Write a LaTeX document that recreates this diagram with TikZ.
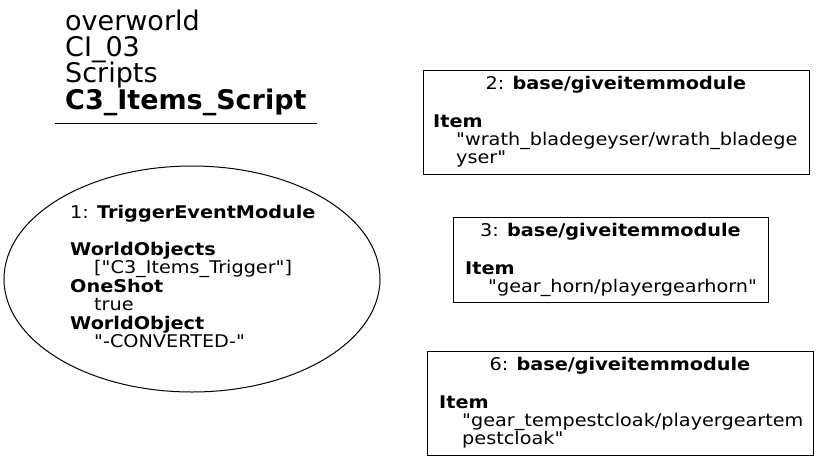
\documentclass[tikz,border=0pt]{standalone}
\usepackage{fontspec}
\setmainfont{DejaVu Sans}
\newfontfamily\bodyfont[FakeStretch=1.1]{DejaVu Sans}
\usetikzlibrary{shapes.geometric}
\tikzset{
  boxnode/.style={draw, line width=1pt, rectangle, anchor=north west, inner sep=0pt},
  ellnode/.style={draw, line width=1pt, ellipse, inner sep=0pt},
  txt/.style={anchor=base west, inner sep=0pt, font=\bodyfont\fontsize{17.5}{18}\selectfont},
  ctxt/.style={anchor=base, inner sep=0pt, font=\bodyfont\fontsize{17.5}{18}\selectfont},
  ttl/.style={anchor=base west, inner sep=0pt, font=\fontsize{27}{27}\selectfont},
}
\begin{document}
\begin{tikzpicture}[x=1pt,y=-1pt]
\useasboundingbox (0,0) rectangle (819,461);
% title
\node[ttl] (h1) at (65,30) {overworld};
\node[ttl] (h2) at (65,56) {CI\_03};
\node[ttl] (h3) at (65,82) {Scripts};
\node[ttl] (h4) at (65,109) {\bfseries C3\_Items\_Script};
\coordinate (ul) at (55,123);
\coordinate (ur) at (317,123);
\draw[line width=1pt] (ul) -- (ur);
% ellipse node 1
\node[ellnode, minimum width=376pt, minimum height=226pt] (n1) at (192,279) {};
\node[txt] (n1a) at (70,218) {1: \textbf{TriggerEventModule}};
\node[txt] (n1b) at (70,255) {\textbf{WorldObjects}};
\node[txt] (n1c) at (94,273.5) {["C3\_Items\_Trigger"]};
\node[txt] (n1d) at (70,292) {\textbf{OneShot}};
\node[txt] (n1e) at (94,310.5) {true};
\node[txt] (n1f) at (70,329) {\textbf{WorldObject}};
\node[txt] (n1g) at (94,347.5) {"-CONVERTED-"};
% box 2
\node[boxnode, minimum width=386pt, minimum height=104pt] (n2) at (423,70) {};
\node[ctxt] (n2a) at (616,89) {2: \textbf{base/giveitemmodule}};
\node[txt] (n2b) at (433,127) {\textbf{Item}};
\node[txt] (n2c) at (456,145) {"wrath\_bladegeyser/wrath\_bladege};
\node[txt] (n2d) at (456,163) {yser"};
% box 3
\node[boxnode, minimum width=315pt, minimum height=85pt] (n3) at (453,217) {};
\node[ctxt] (n3a) at (610.5,236) {3: \textbf{base/giveitemmodule}};
\node[txt] (n3b) at (465,274) {\textbf{Item}};
\node[txt] (n3c) at (488,292) {"gear\_horn/playergearhorn"};
% box 6
\node[boxnode, minimum width=386pt, minimum height=104pt] (n6) at (427,351) {};
\node[ctxt] (n6a) at (620,370) {6: \textbf{base/giveitemmodule}};
\node[txt] (n6b) at (439,408) {\textbf{Item}};
\node[txt] (n6c) at (462,426) {"gear\_tempestcloak/playergeartem};
\node[txt] (n6d) at (462,444) {pestcloak"};
\end{tikzpicture}
\end{document}
